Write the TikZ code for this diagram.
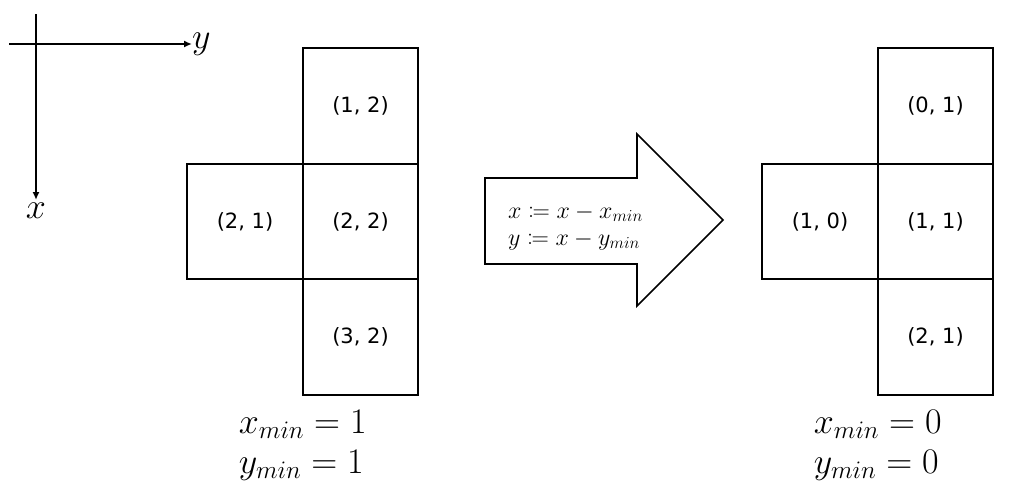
\RequirePackage{fix-cm}
\documentclass[tikz,border=0pt]{standalone}
\usepackage{fontspec}
\usepackage{mathtools}
\usepackage{tikz}
\usetikzlibrary{arrows.meta,positioning,calc}
\newfontfamily\cellfont{DejaVu Sans}

\begin{document}
\begin{tikzpicture}[
  x=1pt, y=-1pt,
  node distance=0pt,
  cell/.style={draw=black, line width=1.6pt, minimum size=115.5pt, inner sep=0pt, outer sep=0pt, font=\cellfont\fontsize{21}{24}\selectfont},
  axis/.style={-{Latex[length=8pt,width=7pt]}, line width=1.6pt},
  axlbl/.style={font=\fontsize{36}{40}\selectfont, inner sep=0pt},
  rule/.style={align=left, inner sep=0pt, font=\fontsize{24}{27}\selectfont},
  minval/.style={align=left, inner sep=0pt, font=\fontsize{36}{40}\selectfont},
  shiftarrow/.style={draw=black, line width=1.6pt, fill=white, line join=miter}
]
\useasboundingbox (0,0) rectangle (1025,499);

% axes
\coordinate (hstart) at (9,44);
\coordinate (vstart) at (36,14);
\node[axlbl, anchor=west] (ylab) at (192,44) {$y$};
\node[axlbl, anchor=north, outer sep=3pt] (xlab) at (36,200) {$x$};
\draw[axis] (hstart) -- (ylab.west);
\draw[axis] (vstart) -- (xlab.north);

% before
\node[cell] (a12) at (360.5,106) {(1, 2)};
\node[cell, below=of a12] (a22) {(2, 2)};
\node[cell, left=of a22] (a21) {(2, 1)};
\node[cell, below=of a22] (a32) {(3, 2)};
\node[minval, below=15pt of a32.south west] (amin) {$x_{min} = 1$\\$y_{min} = 1$};

% shift arrow
\draw[shiftarrow] (485,178) -- (637,178) -- (637,134) -- (723,220) -- (637,306) -- (637,264) -- (485,264) -- cycle;
\node[rule, anchor=west] (upd) at (508,227) {$x \coloneqq x - x_{min}$\\$y \coloneqq x - y_{min}$};

% after
\node[cell] (b01) at (935.5,106) {(0, 1)};
\node[cell, below=of b01] (b11) {(1, 1)};
\node[cell, left=of b11] (b10) {(1, 0)};
\node[cell, below=of b11] (b21) {(2, 1)};
\node[minval, below=15pt of b21.south west] (bmin) {$x_{min} = 0$\\$y_{min} = 0$};
\end{tikzpicture}
\end{document}
